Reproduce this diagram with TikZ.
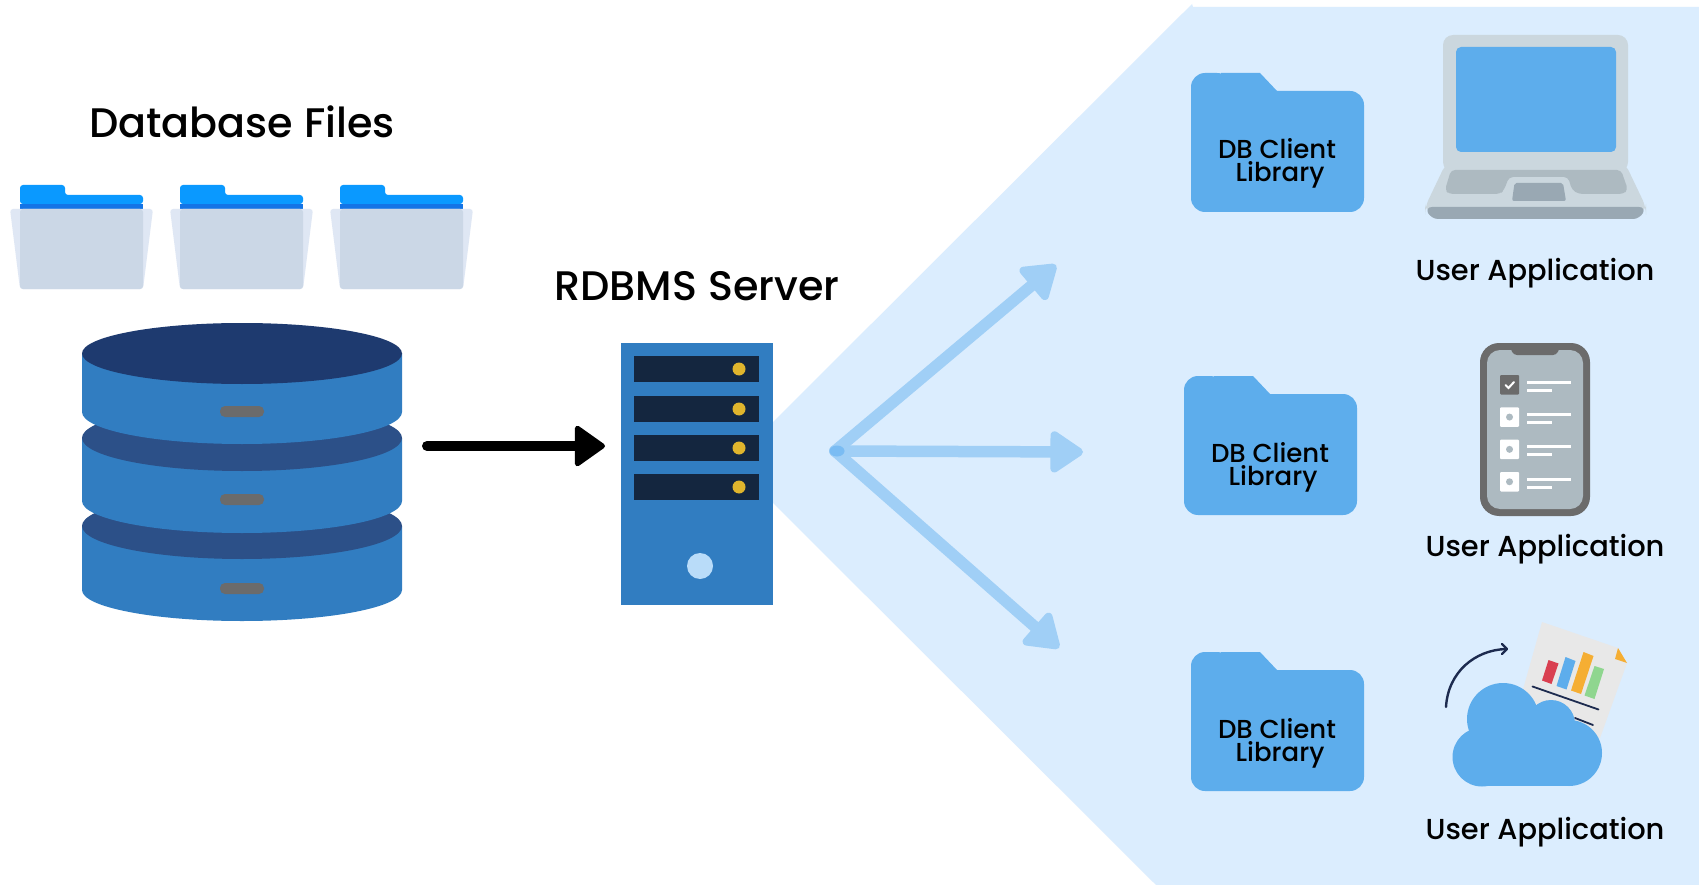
\documentclass[tikz,border=0pt]{standalone}
\usepackage{fontspec}
\setmainfont{Poppins Medium}
\usetikzlibrary{arrows.meta}
\definecolor{bgblue}{HTML}{DBEDFE}
\definecolor{fold}{HTML}{5DADEC}
\definecolor{dbblue}{HTML}{317DC1}
\definecolor{dbtop}{HTML}{1E3A6F}
\definecolor{dbmid}{HTML}{2C5088}
\definecolor{slotgrey}{HTML}{6B6B6B}
\definecolor{slotdark}{HTML}{14263F}
\definecolor{led}{HTML}{E0B52D}
\definecolor{pale}{HTML}{B9DCF9}
\definecolor{tabblue}{HTML}{0A99FF}
\definecolor{banddark}{HTML}{1474E6}
\definecolor{paperlite}{HTML}{DFE7F4}
\definecolor{papermid}{HTML}{CBD7E6}
\definecolor{lapbase}{HTML}{CBD7DE}
\definecolor{lapkey}{HTML}{ADBAC1}
\definecolor{lappad}{HTML}{99A8B3}
\definecolor{spray}{HTML}{A0CFF6}
\definecolor{sprayhub}{HTML}{7ABCF3}
\definecolor{navy}{HTML}{1D2B4F}
\definecolor{sheet}{HTML}{E8E8E8}
\definecolor{barred}{HTML}{D93F50}
\definecolor{barorange}{HTML}{F5AE33}
\definecolor{bargreen}{HTML}{8FD68F}
\tikzset{
  title/.style={anchor=base,inner sep=0pt,font=\fontsize{41.3}{46}\selectfont},
  applabel/.style={anchor=base,inner sep=0pt,font=\fontsize{28.9}{34}\selectfont},
  liblabel/.style={anchor=base,inner sep=0pt,align=center,font=\fontsize{26}{23}\selectfont},
  spraylink/.style={draw=spray,line width=11.5pt,line cap=round,
    -{Triangle[width=46pt,length=36pt,round,line width=8pt]}},
  flowlink/.style={draw=black,line width=10pt,line cap=round,
    -{Triangle[width=44pt,length=32pt,round,line width=5pt]}}
}
\newcommand{\smallfolder}[1]{%
  \begin{scope}[xshift=#1pt]
    \fill[tabblue,rounded corners=3pt] (20,204) -- (20,185) -- (65,185) -- (65,195) -- (143,195) -- (143,204) -- cycle;
    \fill[banddark] (20,204) rectangle (143,210);
    \fill[paperlite,rounded corners=3pt] (10,209) -- (153,209) -- (143,289) -- (20,289) -- cycle;
    \fill[papermid,rounded corners=3pt] (20,209) -- (143,209) -- (143,289) -- (20,289) -- cycle;
  \end{scope}}
\newcommand{\libfolder}[3]{% x, y, node name
  \begin{scope}[shift={(#1,#2)}]
    \fill[fold,rounded corners=14pt] (40,18) -- (173,18) -- (173,139) -- (0,139) -- (0,0) -- (40,0) -- cycle;
    \fill[fold] (30,0) -- (69,0) -- (86,18) -- (30,18) -- cycle;
    \node[liblabel] (#3) at (86,109) {DB Client\\\hspace*{6pt}Library};
  \end{scope}}
\begin{document}
\begin{tikzpicture}[x=1pt,y=-1pt]
\useasboundingbox (0,0) rectangle (1699,885);
\fill[white] (0,0) rectangle (1699,885);
% background wedge
\fill[bgblue] (773,422) -- (1188,8) -- (1192,4) -- (1193,7) -- (1699,7) -- (1699,885) -- (1156,885) -- (773,503) -- cycle;
% database files
\node[title] (dbtitle) at (242,137.5) {Database Files};
\smallfolder{0}\smallfolder{160}\smallfolder{320}
% database stack
\fill[dbblue] (82,526) -- (82,590) arc[start angle=180,end angle=0,x radius=160,y radius=31] -- (402,526) -- cycle;
\fill[dbmid] (242,526) ellipse[x radius=160,y radius=33];
\fill[slotgrey,rounded corners=5pt] (220,583) rectangle (264,594);
\fill[dbblue] (82,438) -- (82,501) arc[start angle=180,end angle=0,x radius=160,y radius=32] -- (402,438) -- cycle;
\fill[dbmid] (242,438) ellipse[x radius=160,y radius=33];
\fill[slotgrey,rounded corners=5pt] (220,494) rectangle (264,505);
\fill[dbblue] (82,353) -- (82,412) arc[start angle=180,end angle=0,x radius=160,y radius=32] -- (402,353) -- cycle;
\fill[slotgrey,rounded corners=5pt] (220,406) rectangle (264,417);
\fill[dbtop] (242,353.5) ellipse[x radius=160,y radius=30.5];
\coordinate (dbout) at (427,446);
% server
\node[title] (srvtitle) at (697,300) {RDBMS Server};
\node[fill=dbblue,minimum width=152pt,minimum height=262pt,inner sep=0pt,outer sep=0pt] (server) at (697,474) {};
\foreach \sy/\dy in {356/369,396/409,435/448,474/487}{
  \fill[slotdark] (634,\sy) rectangle (759,\sy+26);
  \fill[led] (739,\dy) circle[radius=6.5];
}
\fill[pale] (700,566) circle[radius=13];
\draw[flowlink,shorten >=16pt] (dbout) -- (server.west |- dbout);
% spray arrows
\coordinate (hub) at (835,451);
\coordinate (t1) at (1056,265);
\coordinate (t2) at (1083,452);
\coordinate (t3) at (1059,648);
\draw[spraylink] (hub) -- (t1);
\draw[spraylink] (hub) -- (t2);
\draw[spraylink] (hub) -- (t3);
\fill[sprayhub] ([xshift=2pt]hub) ellipse[x radius=7.5,y radius=5.5];
% library folders
\libfolder{1191}{73}{lib1}
\libfolder{1184}{376}{lib2}
\libfolder{1191}{652}{lib3}
% laptop
\fill[lapbase,rounded corners=10pt] (1443,35) rectangle (1628,172);
\fill[fold,rounded corners=5pt] (1456,47) rectangle (1616,152);
\fill[lapbase,rounded corners=8pt] (1446,163) -- (1625,163) -- (1646,207) -- (1646,212) -- (1425,212) -- (1425,207) -- cycle;
\fill[lappad,rounded corners=7pt] (1425,207) -- (1646,207) -- (1640,219) -- (1431,219) -- cycle;
\fill[lapkey,rounded corners=4pt] (1451,170) -- (1621,170) -- (1628,190) -- (1623,194) -- (1579,194) -- (1572,190) -- (1568,177) -- (1509,177) -- (1504,190) -- (1500,194) -- (1449,194) -- (1445,190) -- cycle;
\fill[lappad,rounded corners=2pt] (1514.5,183) -- (1563,183) -- (1566,201) -- (1512,201) -- cycle;
\node[applabel] (app1) at (1535,280) {User Application};
% phone
\fill[slotgrey,rounded corners=19pt] (1480,343) rectangle (1590,516);
\fill[lapkey,rounded corners=13pt] (1487,350) rectangle (1583,509);
\fill[slotgrey,rounded corners=3pt] (1510,348) -- (1560,348) -- (1556,355) -- (1514,355) -- cycle;
\foreach \by [count=\i] in {375,407.3,439.6,472}{
  \ifnum\i=1
    \fill[slotgrey,rounded corners=1pt] (1500,\by) rectangle (1519,\by+19.5);
    \draw[white,line width=2pt,line cap=round] (1505.5,\by+10) -- (1508.5,\by+13) -- (1514,\by+7);
  \else
    \fill[white,rounded corners=1pt] (1500,\by) rectangle (1519,\by+19.5);
    \fill[lapkey] (1509.5,\by+9.75) circle[radius=3.5];
  \fi
  \fill[white] (1527,\by+5.5) rectangle (1571,\by+8.8);
  \fill[white] (1527,\by+13.5) rectangle (1552,\by+16.8);
}
\node[applabel] (app2) at (1545,556.5) {User Application};
% report and cloud
\fill[sheet] (1542,622) -- (1618,648) -- (1627,663) -- (1600,738) -- (1520,700) -- cycle;
\fill[barorange] (1618,648) -- (1627,663) -- (1615,659) -- cycle;
\fill[barred] (1548.5,660) -- (1558.5,663.5) -- (1551.5,684) -- (1542,680.5) -- cycle;
\fill[fold] (1565.5,657) -- (1575.5,661) -- (1566.5,689.5) -- (1556.5,686) -- cycle;
\fill[barorange] (1583.5,652) -- (1593.5,656) -- (1581,694) -- (1571,690.5) -- cycle;
\fill[bargreen] (1594.5,666) -- (1604,669) -- (1594.5,699) -- (1584.5,695.5) -- cycle;
\draw[navy,line width=1.8pt,line cap=round] (1532.5,686.5) -- (1598.5,709.5);
\draw[navy,line width=1.8pt,line cap=round] (1575,718) -- (1593,725);
\fill[fold] (1503,719) circle[radius=36];
\fill[fold] (1551,724) circle[radius=24];
\fill[fold] (1569,753) circle[radius=33];
\fill[fold] (1482,757) circle[radius=29.5];
\fill[fold] (1482,722) rectangle (1570,786);
\draw[navy,line width=2.4pt,line cap=round] (1446,707) .. controls (1448,672) and (1475,650) .. (1506,649);
\draw[navy,line width=2.4pt,line cap=round,line join=round] (1502,644) -- (1507,649) -- (1502,654);
\node[applabel] (app3) at (1545,839.5) {User Application};
\end{tikzpicture}
\end{document}
